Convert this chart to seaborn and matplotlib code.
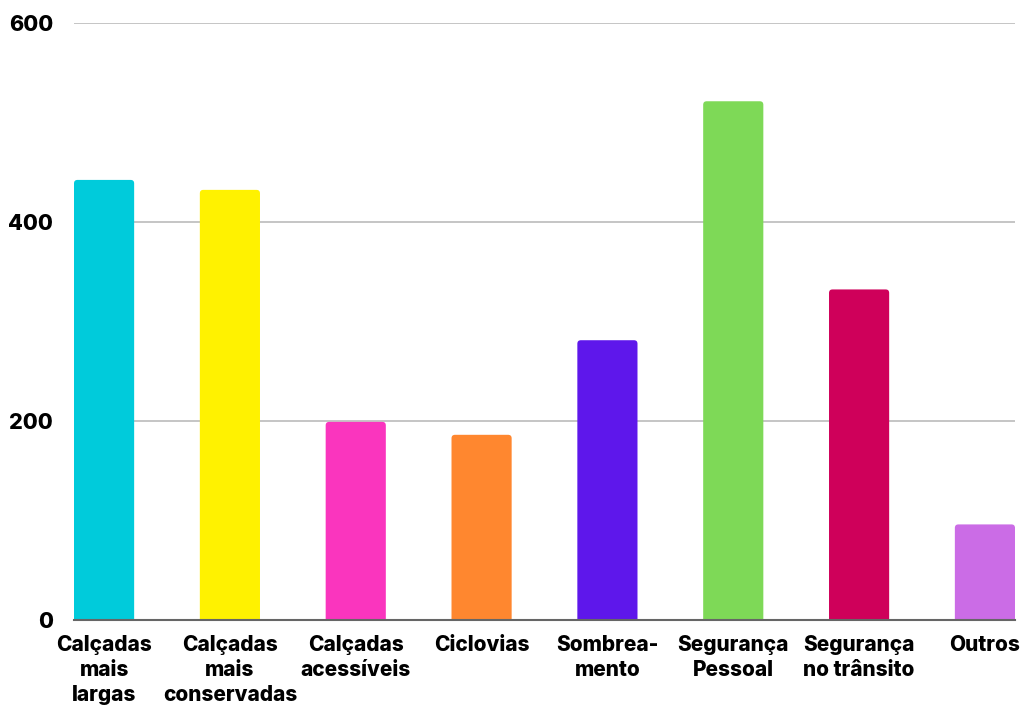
import matplotlib
matplotlib.use("Agg")
import matplotlib.pyplot as plt
from matplotlib import font_manager as fm
from matplotlib.patches import FancyBboxPatch
import seaborn as sns
import pandas as pd

categories = ["Calçadas\nmais\nlargas", "Calçadas\nmais\nconservadas", "Calçadas\nacessíveis",
              "Ciclovias", "Sombrea-\nmento", "Segurança\nPessoal", "Segurança\nno trânsito", "Outros"]
values = [442, 432, 199, 186, 281, 521, 332, 96]
colors = ["#00CBDB", "#FFF200", "#FA35BE", "#FF872F", "#5E17EB", "#7ED957", "#CF005A", "#CB6CE6"]
yticks = [0, 200, 400, 600]

sns.set_theme(style="white")
plt.rcParams["font.family"] = ["Inter", "DejaVu Sans"]

heavy = None
for f in fm.fontManager.ttflist:
    if f.fname.endswith("/Inter-ExtraBold.otf"):
        heavy = f.fname
        break

def fp(size):
    if heavy:
        return fm.FontProperties(fname=heavy, size=size)
    return fm.FontProperties(family="Inter", weight=800, size=size)

df = pd.DataFrame({"cat": categories, "val": values})

fig = plt.figure(figsize=(10.29, 7.12), dpi=100)
ax = fig.add_axes([74/1029, 1 - 620/712, (1015-74)/1029, (620-22.6)/712])

sns.barplot(data=df, x="cat", y="val", hue="cat", palette=colors, legend=False,
            width=0.478, ax=ax, saturation=1, zorder=3)

# round the top corners of the bars
x_px = (1015-74) / 7.478
y_px = (620-22.6) / 600
r_px = 3.5
for p in list(ax.patches):
    x, y = p.get_x(), p.get_y()
    w, h = p.get_width(), p.get_height()
    fc = p.get_facecolor()
    p.set_visible(False)
    rs = r_px / x_px
    fb = FancyBboxPatch((x, y - 10), w, h + 10,
                        boxstyle=f"round,pad=0,rounding_size={rs}",
                        mutation_aspect=(1 / y_px) / (1 / x_px),
                        facecolor=fc, edgecolor="none", zorder=3, clip_on=True)
    ax.add_patch(fb)

ax.set_xlim(-0.239, 7.239)
ax.set_ylim(0, 600)
ax.set_yticks(yticks)
ax.set_yticklabels([str(t) for t in yticks], fontproperties=fp(15.5), color="black")
ax.yaxis.grid(True, color="#C0C0C0", linewidth=1.3, zorder=0)
ax.xaxis.grid(False)
ax.tick_params(axis="y", length=0, pad=15)
ax.tick_params(axis="x", length=0, pad=11)
for lbl in ax.get_xticklabels():
    lbl.set_fontproperties(fp(15))
    lbl.set_color("black")
    lbl.set_linespacing(1.3)
    lbl.set_verticalalignment("top")
ax.set_xlabel("")
ax.set_ylabel("")
for s in ["top", "right", "left"]:
    ax.spines[s].set_visible(False)
ax.spines["bottom"].set_color("#666666")
ax.spines["bottom"].set_linewidth(1.5)
ax.spines["bottom"].set_zorder(4)

fig.savefig("out.png", dpi=100, facecolor="white")
